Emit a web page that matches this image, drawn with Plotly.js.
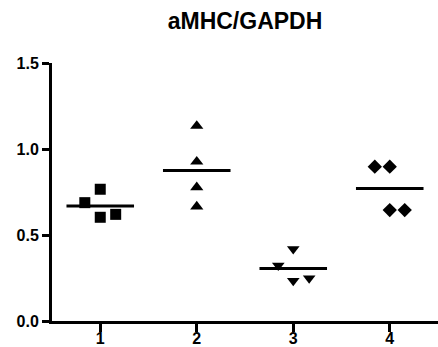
<!DOCTYPE html>
<html>
<head>
<meta charset="utf-8">
<script src="https://cdn.plot.ly/plotly-3.0.1.min.js"></script>
<style>html,body{margin:0;padding:0;background:#fff;}#chart{width:438px;height:347px;}</style>
</head>
<body>
<div id="chart"></div>
<script>
// Tick labels / categories
const categories = [1, 2, 3, 4];
const tickLabels = ['1', '2', '3', '4'];

// Series values
const group1Values = [0.766, 0.688, 0.603, 0.620];
const group1X      = [1.00, 0.84, 1.00, 1.16];
const group2Values = [1.134, 0.926, 0.777, 0.665];
const group2X      = [2.00, 2.00, 2.00, 2.00];
const group3Values = [0.419, 0.322, 0.234, 0.248];
const group3X      = [3.00, 2.845, 3.00, 3.165];
const group4Values = [0.897, 0.897, 0.645, 0.645];
const group4X      = [3.845, 4.00, 4.00, 4.155];

const groups = [
  {x: group1X, y: group1Values, symbol: 'square', size: 11, c: categories[0]},
  {x: group2X, y: group2Values, symbol: 'triangle-up', size: 11.5, c: categories[1]},
  {x: group3X, y: group3Values, symbol: 'triangle-down', size: 11, c: categories[2]},
  {x: group4X, y: group4Values, symbol: 'diamond', size: 11, c: categories[3]}
];

const mean = a => a.reduce((s, v) => s + v, 0) / a.length;
const halfWidth = 0.35;

const traces = [];
groups.forEach(g => {
  traces.push({
    type: 'scatter', mode: 'markers', x: g.x, y: g.y,
    marker: {symbol: g.symbol, size: g.size, color: '#000', line: {width: 0}},
    hoverinfo: 'skip', showlegend: false, cliponaxis: false
  });
  const m = mean(g.y);
  traces.push({
    type: 'scatter', mode: 'lines', x: [g.c - halfWidth, g.c + halfWidth], y: [m, m],
    line: {color: '#000', width: 3}, hoverinfo: 'skip', showlegend: false
  });
});

const fontFam = 'Arial, "Liberation Sans", sans-serif';
const layout = {
  width: 438, height: 347,
  margin: {l: 52, r: 0, t: 63, b: 26, pad: 0},
  paper_bgcolor: '#fff', plot_bgcolor: '#fff',
  title: {
    text: 'aMHC/GAPDH',
    font: {family: fontFam, size: 23, color: '#000', weight: 'bold'},
    x: 0.5, xref: 'paper', xanchor: 'center',
    y: 1 - 21/347, yref: 'container', yanchor: 'middle'
  },
  xaxis: {
    range: [0.5, 4.5], tickvals: categories, ticktext: tickLabels,
    showgrid: false, zeroline: false, showline: true, linecolor: '#000', linewidth: 3,
    ticks: 'outside', ticklen: 8, tickwidth: 3, tickcolor: '#000',
    ticklabelstandoff: -7,
    tickfont: {family: fontFam, size: 16, color: '#000', weight: 'bold'},
    fixedrange: true
  },
  yaxis: {
    range: [0, 1.5], tickvals: [0, 0.5, 1.0, 1.5], ticktext: ['0.0', '0.5', '1.0', '1.5'],
    showgrid: false, zeroline: false, showline: true, linecolor: '#000', linewidth: 3,
    ticks: 'outside', ticklen: 7, tickwidth: 3, tickcolor: '#000',
    tickfont: {family: fontFam, size: 16, color: '#000', weight: 'bold'},
    fixedrange: true
  },
  showlegend: false
};

Plotly.newPlot('chart', traces, layout, {staticPlot: true, displayModeBar: false});
</script>
</body>
</html>
